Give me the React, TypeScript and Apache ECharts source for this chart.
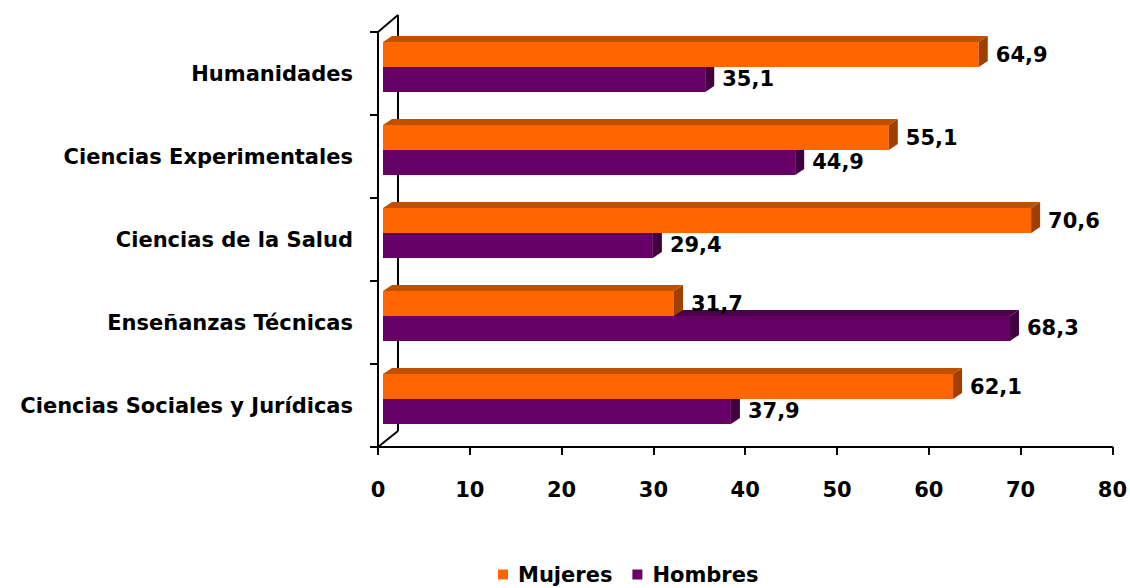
import React, { useEffect, useRef } from "react";
import * as echarts from "echarts";

const categories = [
  "Ciencias Sociales y Jurídicas",
  "Enseñanzas Técnicas",
  "Ciencias de la Salud",
  "Ciencias Experimentales",
  "Humanidades",
];
const mujeres = [62.1, 31.7, 70.6, 55.1, 64.9];
const hombres = [37.9, 68.3, 29.4, 44.9, 35.1];
const xTicks = { min: 0, max: 80, interval: 10 };

const FONT = "'DejaVu Sans', Verdana, sans-serif";
const GRID = { left: 378, right: 14, top: 32, bottom: 141 };
const W = 1130;
const H = 588;

const styles = {
  Mujeres: { front: "#ff6600", top: "#c05000", side: "#a04000" },
  Hombres: { front: "#660066", top: "#4a004a", side: "#400040" },
};

function makeRender(name: "Mujeres" | "Hombres", upper: boolean) {
  const st = styles[name];
  return (params: any, api: any) => {
    const val = api.value(0);
    const cat = api.value(1);
    const base = api.coord([0, cat]);
    const end = api.coord([val, cat]);
    const band = api.size([0, 1])[1];
    const barH = band * 0.3;
    const dx = 9;
    const dy = 6;
    const shiftX = 5;
    const centerY = base[1] - 6.5;
    const top = upper ? centerY - barH : centerY;
    const x0 = base[0] + shiftX;
    const x1 = end[0] + shiftX;
    const label = val.toFixed(1).replace(".", ",");
    return {
      type: "group",
      children: [
        {
          type: "polygon",
          shape: { points: [[x0, top], [x0 + dx, top - dy], [x1 + dx, top - dy], [x1, top]] },
          style: { fill: st.top },
        },
        {
          type: "rect",
          shape: { x: x0, y: top, width: x1 - x0, height: barH },
          style: { fill: st.front },
        },
        {
          type: "polygon",
          shape: {
            points: [[x1, top], [x1 + dx, top - dy], [x1 + dx, top - dy + barH], [x1, top + barH]],
          },
          style: { fill: st.side },
        },
        {
          type: "text",
          style: {
            x: x1 + dx + 8,
            y: top + barH / 2,
            text: label,
            fill: "#000",
            font: `bold 21px ${FONT}`,
            verticalAlign: "middle",
            align: "left",
          },
        },
      ],
    };
  };
}

export default function App() {
  const ref = useRef<HTMLDivElement>(null);
  useEffect(() => {
    if (!ref.current) return;
    const chart = echarts.init(ref.current, null, { renderer: "svg" });
    const gl = GRID.left;
    const gt = GRID.top;
    const gb = H - GRID.bottom;
    const ddx = 20;
    const ddy = 16;
    const line = { stroke: "#000", lineWidth: 2 };
    chart.setOption({
      animation: false,
      backgroundColor: "#fff",
      grid: { left: GRID.left, right: GRID.right, top: GRID.top, bottom: GRID.bottom },
      legend: {
        data: ["Mujeres", "Hombres"],
        left: 493,
        top: 559,
        icon: "rect",
        itemWidth: 10,
        itemHeight: 10,
        itemGap: 20,
        textStyle: {
          fontFamily: FONT,
          fontWeight: "bold",
          fontSize: 21,
          color: "#000",
          padding: [0, 0, 0, 5],
        },
      },
      xAxis: {
        type: "value",
        min: xTicks.min,
        max: xTicks.max,
        interval: xTicks.interval,
        axisLine: { show: true, lineStyle: { color: "#000", width: 2 } },
        axisTick: { show: true, length: 8, lineStyle: { color: "#000", width: 2 } },
        splitLine: { show: false },
        axisLabel: { margin: 32, color: "#000", fontFamily: FONT, fontWeight: "bold", fontSize: 21 },
      },
      yAxis: {
        type: "category",
        data: categories,
        axisLine: { show: true, lineStyle: { color: "#000", width: 2 } },
        axisTick: { show: true, length: 8, lineStyle: { color: "#000", width: 2 } },
        axisLabel: { margin: 25, color: "#000", fontFamily: FONT, fontWeight: "bold", fontSize: 21 },
      },
      graphic: [
        { type: "line", z: 0, shape: { x1: gl + ddx, y1: gt - ddy - 1, x2: gl + ddx, y2: gb - ddy }, style: line },
        { type: "line", z: 0, shape: { x1: gl, y1: gt, x2: gl + ddx, y2: gt - ddy - 1 }, style: line },
        { type: "line", z: 0, shape: { x1: gl, y1: gb, x2: gl + ddx, y2: gb - ddy }, style: line },
      ],
      series: [
        {
          name: "Mujeres",
          type: "custom",
          z: 4,
          itemStyle: { color: styles.Mujeres.front },
          encode: { x: 0, y: 1 },
          data: mujeres.map((v, i) => [v, i]),
          renderItem: makeRender("Mujeres", true),
        },
        {
          name: "Hombres",
          type: "custom",
          z: 3,
          itemStyle: { color: styles.Hombres.front },
          encode: { x: 0, y: 1 },
          data: hombres.map((v, i) => [v, i]),
          renderItem: makeRender("Hombres", false),
        },
      ],
    });
    return () => chart.dispose();
  }, []);
  return (
    <div
      ref={ref}
      style={{ position: "absolute", left: 0, top: 0, width: W, height: H }}
    />
  );
}
